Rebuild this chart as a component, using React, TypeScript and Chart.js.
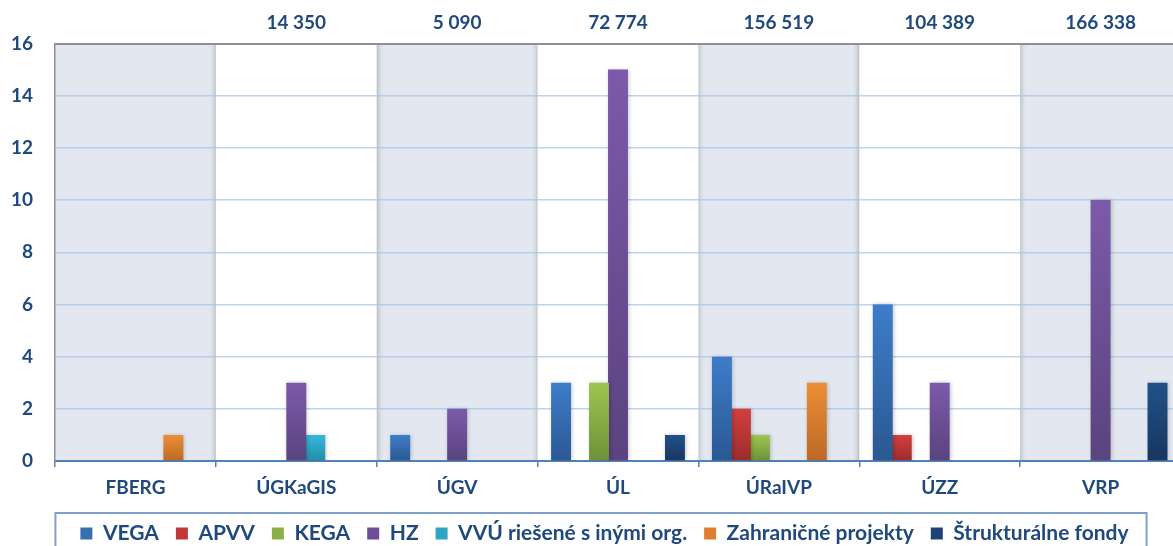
import React, { useEffect, useRef } from "react";
import { Chart, registerables } from "chart.js";

Chart.register(...registerables);

// ---- data ----
const categories = ["FBERG", "ÚGKaGIS", "ÚGV", "ÚL", "ÚRaIVP", "ÚZZ", "VRP"];
const topLabels = ["", "14 350", "5 090", "72 774", "156 519", "104 389", "166 338"];
const seriesNames = [
  "VEGA",
  "APVV",
  "KEGA",
  "HZ",
  "VVÚ riešené s inými org.",
  "Zahraničné projekty",
  "Štrukturálne fondy",
];
const vega = [0, 0, 1, 3, 4, 6, 0];
const apvv = [0, 0, 0, 0, 2, 1, 0];
const kega = [0, 0, 0, 3, 1, 0, 0];
const hz = [0, 3, 2, 15, 0, 3, 10];
const vvu = [0, 1, 0, 0, 0, 0, 0];
const zahranicne = [1, 0, 0, 0, 3, 0, 0];
const strukturalne = [0, 0, 0, 1, 0, 0, 3];
const seriesValues = [vega, apvv, kega, hz, vvu, zahranicne, strukturalne];
const yMin = 0;
const yMax = 16;
const yStep = 2;

// ---- styles ----
const topColors = ["#3D7DCA", "#D43F3F", "#9DC550", "#7C5AAA", "#36B7DA", "#EC8E36", "#215189"];
const bottomColors = ["#2B5891", "#9A2C2C", "#6C9138", "#5A437E", "#248DA9", "#BC6826", "#18365F"];
const legendColors = ["#3670B3", "#C0393A", "#8BB048", "#6C4F95", "#2FA5C6", "#DD7E30", "#1D4474"];
const textColor = "#1F497D";
const font = { family: "Lato", size: 19, weight: "bold" as const };
const legendFont = { family: "Lato", size: 21, weight: "bold" as const };

const bandsPlugin = {
  id: "bands",
  beforeDraw(chart: any) {
    const { ctx, chartArea } = chart;
    const x = chart.scales.x;
    if (!chartArea || !x) return;
    const n = categories.length;
    const w = chartArea.width / n;
    ctx.save();
    ctx.beginPath();
    ctx.rect(chartArea.left, chartArea.top, chartArea.width, chartArea.height);
    ctx.clip();
    ctx.fillStyle = "#E3E8F0";
    ctx.fillRect(chartArea.left, chartArea.top, chartArea.width, chartArea.height);
    ctx.shadowColor = "rgba(0,0,0,0.35)";
    ctx.shadowBlur = 6;
    ctx.fillStyle = "#FFFFFF";
    for (let i = 1; i < n; i += 2) {
      const c = x.getPixelForValue(i);
      ctx.fillRect(c - w / 2, chartArea.top - 20, w, chartArea.height + 40);
    }
    ctx.restore();
  },
  beforeDatasetsDraw(chart: any) {
    const { ctx } = chart;
    ctx.save();
    ctx.shadowColor = "rgba(0,0,0,0.22)";
    ctx.shadowBlur = 4;
    ctx.shadowOffsetX = 1;
  },
  afterDatasetsDraw(chart: any) {
    chart.ctx.restore();
  },
  afterDraw(chart: any) {
    const lg = chart.legend;
    if (!lg || !lg.legendHitBoxes || !lg.legendHitBoxes.length) return;
    const hb = lg.legendHitBoxes;
    const first = hb[0];
    const last = hb[hb.length - 1];
    const { ctx } = chart;
    ctx.save();
    ctx.strokeStyle = "#7F9FCD";
    ctx.lineWidth = 2;
    const left = first.left - 25;
    const right = last.left + last.width + 18;
    const top = first.top - 10;
    ctx.strokeRect(left, top, right - left, chart.height + 20 - top);
    ctx.restore();
  },
};

function makeGradient(i: number) {
  return (c: any) => {
    const chart = c.chart;
    const y = chart.scales && chart.scales.y;
    if (!y || c.type !== "data" || !c.parsed) return legendColors[i];
    const v = c.parsed.y ?? 0;
    const top = y.getPixelForValue(v);
    const base = y.getPixelForValue(0);
    if (!isFinite(top) || !isFinite(base) || top === base) return legendColors[i];
    const g = chart.ctx.createLinearGradient(0, top, 0, base);
    g.addColorStop(0, topColors[i]);
    g.addColorStop(1, bottomColors[i]);
    return g;
  };
}

export default function App() {
  const ref = useRef<HTMLCanvasElement | null>(null);
  useEffect(() => {
    if (!ref.current) return;
    const chart = new Chart(ref.current, {
      type: "bar",
      data: {
        labels: categories,
        datasets: seriesNames.map((name, i) => ({
          label: name,
          data: seriesValues[i],
          backgroundColor: makeGradient(i),
          borderWidth: 0,
          xAxisID: "x",
          yAxisID: "y",
          barPercentage: 1.05,
          categoryPercentage: 0.826,
        })),
      },
      plugins: [bandsPlugin],
      options: {
        responsive: false,
        animation: false,
        devicePixelRatio: 1,
        layout: { padding: 0 },
        plugins: {
          tooltip: { enabled: false },
          title: { display: false },
          legend: {
            position: "bottom",
            labels: {
              font: legendFont,
              color: textColor,
              boxWidth: 12,
              boxHeight: 12,
              padding: 17,
              generateLabels: (ch: any) => {
                const items = (Chart.defaults.plugins.legend.labels as any).generateLabels(ch);
                items.forEach((it: any, i: number) => {
                  it.fillStyle = legendColors[i];
                  it.strokeStyle = legendColors[i];
                  it.lineWidth = 0;
                });
                return items;
              },
            },
          },
        },
        scales: {
          x: {
            type: "category",
            position: "bottom",
            offset: true,
            grid: {
              display: true,
              drawOnChartArea: false,
              drawTicks: true,
              tickLength: 6,
              color: "#4F81BD",
              lineWidth: 1.5,
              offset: true,
            },
            border: { display: true, color: "#4F81BD", width: 2 },
            ticks: { font, color: textColor, padding: 9, maxRotation: 0, autoSkip: false },
            afterFit: (s: any) => {
              s.height = 45;
            },
          },
          x2: {
            type: "category",
            labels: topLabels,
            position: "top",
            offset: true,
            grid: { display: false, drawTicks: false },
            border: { display: true, color: "#8C9096", width: 2 },
            ticks: { font, color: textColor, padding: 9, maxRotation: 0, autoSkip: false },
            afterFit: (s: any) => {
              s.height = 43.5;
            },
          },
          y: {
            type: "linear",
            position: "left",
            min: yMin,
            max: yMax,
            ticks: { stepSize: yStep, font, color: textColor, padding: 22 },
            grid: { color: "rgba(170,196,230,0.75)", lineWidth: 1.5, drawTicks: false },
            border: { display: true, color: "#8C9096", width: 1.5 },
            afterFit: (s: any) => {
              s.width = 55;
            },
          },
          y2: {
            type: "linear",
            position: "right",
            min: yMin,
            max: yMax,
            ticks: { display: false },
            grid: { display: false, drawTicks: false },
            border: { display: false },
            afterFit: (s: any) => {
              s.width = 28;
            },
          },
        },
      } as any,
    });
    return () => chart.destroy();
  }, []);

  return (
    <div
      style={{
        position: "fixed",
        left: 0,
        top: 0,
        width: 1173,
        height: 546,
        overflow: "hidden",
        background: "#FFFFFF",
      }}
    >
      <canvas ref={ref} width={1209} height={554} style={{ display: "block" }} />
    </div>
  );
}
